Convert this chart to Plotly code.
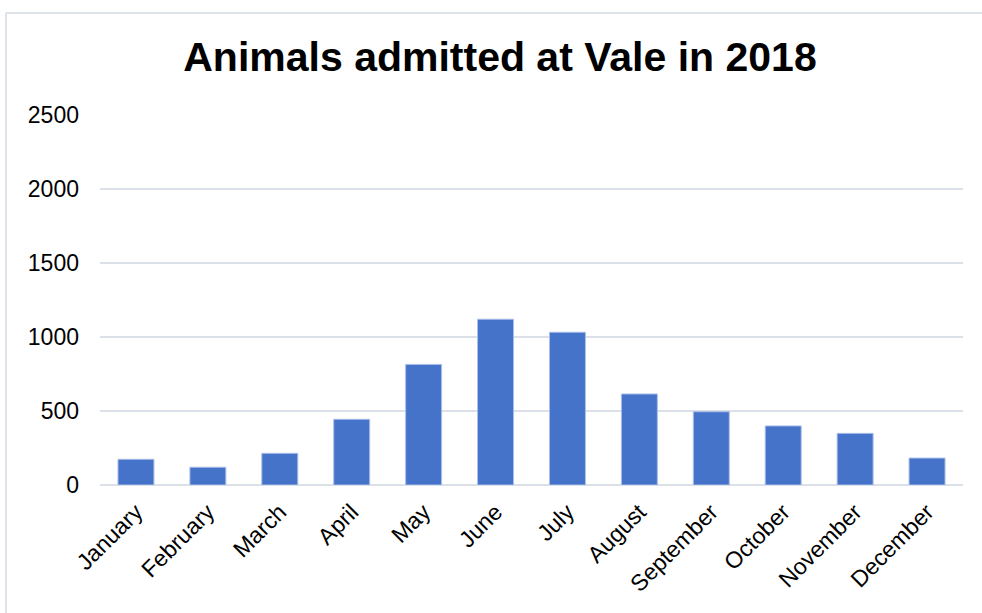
import plotly.graph_objects as go

months = ["January", "February", "March", "April", "May", "June",
          "July", "August", "September", "October", "November", "December"]
admitted = [174, 120, 214, 444, 815, 1120, 1032, 615, 495, 399, 349, 182]
y_ticks = [0, 500, 1000, 1500, 2000, 2500]

W, H = 982, 613
ML, MR, MT, MB = 100, 19, 115, 128
pw, ph = W - ML - MR, H - MT - MB

def px_x(px):
    return (px - ML) / pw

def px_y(py):
    return (H - MB - py) / ph

fig = go.Figure(go.Bar(
    x=months, y=admitted,
    marker=dict(color="#4573CA", line=dict(color="#A9BEE8", width=1)),
))

fig.update_layout(
    width=W, height=H,
    margin=dict(l=ML, r=MR, t=MT, b=MB),
    paper_bgcolor="white", plot_bgcolor="white",
    bargap=0.5,
    showlegend=False,
    font=dict(family="Liberation Sans, Arial", color="#000000"),
    title=dict(text="<b>Animals admitted at Vale in 2018</b>",
               x=500 / W, xref="container", xanchor="center",
               y=1 - 57 / H, yref="container", yanchor="middle",
               font=dict(size=41, color="#000000", family="Liberation Sans, Arial")),
    xaxis=dict(tickangle=-45, tickfont=dict(size=23, color="#000000"),
               showgrid=False, showline=False, ticks="",
               ticklabelstandoff=8),
    yaxis=dict(range=[0, 2500], tickvals=y_ticks, tickfont=dict(size=23, color="#000000"),
               showgrid=True, gridcolor="#DCE1E9", gridwidth=1.5,
               zeroline=True, zerolinecolor="#DCE1E9", zerolinewidth=1.5,
               showline=False, ticks="", ticklabelstandoff=20),
    shapes=[
        dict(type="line", xref="paper", yref="paper",
             x0=px_x(6), x1=px_x(W), y0=px_y(13), y1=px_y(13),
             line=dict(color="#DEE3EA", width=2)),
        dict(type="line", xref="paper", yref="paper",
             x0=px_x(6), x1=px_x(6), y0=px_y(13), y1=px_y(H),
             line=dict(color="#DEE3EA", width=2)),
    ],
)

fig.write_html("out.html", config={"displayModeBar": False},
               post_script="document.body.style.margin='0px';")
